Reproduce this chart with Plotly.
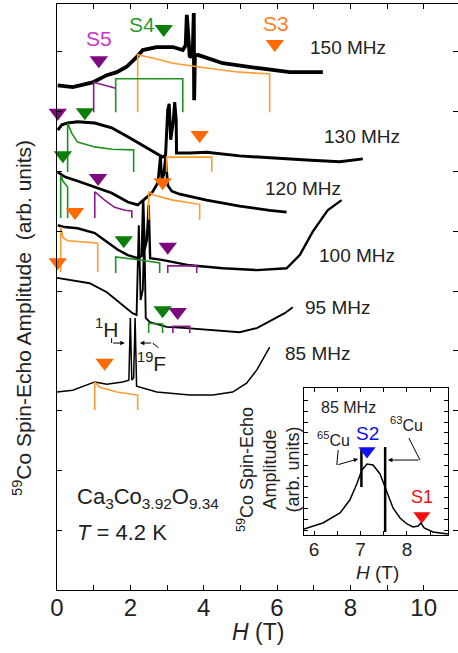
import plotly.graph_objects as go

FONT = "Liberation Sans, Arial, Helvetica, sans-serif"

# ---- spin-echo spectra: field H (T) and stacked amplitude (arb. units) ----
h150 = [0.02, 0.43, 0.97, 1.36, 1.63, 1.90, 2.17, 2.34, 2.72, 3.16, 3.43, 3.51, 3.54, 3.58, 3.62,
        3.70, 3.73, 3.74, 3.76, 3.84, 4.25, 4.52, 5.45, 6.35, 7.25]
a150 = [8.44, 8.41, 8.49, 8.61, 8.66, 8.75, 8.91, 9.03, 9.08, 9.08, 9.03, 9.11, 9.62, 9.11, 8.91,
        8.95, 9.65, 8.19, 8.93, 8.95, 8.86, 8.81, 8.73, 8.66, 8.66]

h130 = [0.02, 0.13, 0.29, 0.56, 1.03, 1.49, 1.93, 2.39, 2.66, 2.88, 2.96, 3.02, 3.06, 3.10, 3.16,
        3.21, 3.25, 3.26, 3.62, 4.08, 4.98, 5.88, 6.81, 7.71, 8.34]
a130 = [7.69, 7.78, 7.81, 7.83, 7.81, 7.73, 7.58, 7.41, 7.32, 7.24, 7.27, 8.03, 8.13, 7.53, 7.78,
        8.16, 7.86, 7.31, 7.31, 7.32, 7.26, 7.22, 7.19, 7.16, 7.21]

h120 = [0.02, 0.21, 0.56, 1.03, 1.49, 1.93, 2.20, 2.45, 2.61, 2.75, 2.82, 2.86, 2.91, 2.96, 3.02,
        3.13, 3.35, 4.08, 4.98, 5.80, 6.26]
a120 = [6.99, 6.91, 6.84, 6.74, 6.64, 6.49, 6.44, 6.57, 6.66, 6.81, 7.26, 6.86, 6.94, 7.24, 6.77,
        6.67, 6.62, 6.52, 6.42, 6.35, 6.32]

h100 = [0.02, 0.21, 0.56, 1.03, 1.30, 1.66, 1.93, 2.20, 2.31, 2.35, 2.39, 2.45, 2.50, 2.54, 2.86,
        3.62, 4.52, 5.45, 6.26, 6.62, 6.97, 7.38, 7.76]
a100 = [6.10, 6.07, 6.05, 5.97, 5.85, 5.69, 5.60, 5.55, 5.59, 6.52, 5.69, 5.85, 6.44, 5.55, 5.52,
        5.43, 5.38, 5.35, 5.38, 5.60, 5.99, 6.35, 6.52]

h95 = [0.00, 0.43, 0.89, 1.36, 1.79, 2.06, 2.17, 2.23, 2.28, 2.34, 2.38, 2.42, 2.53, 2.99, 3.54,
       4.08, 4.98, 5.45, 5.88, 6.21, 6.43]
a95 = [5.22, 5.18, 5.13, 4.98, 4.77, 4.63, 4.60, 6.10, 4.85, 5.02, 6.02, 4.55, 4.48, 4.40, 4.38,
       4.35, 4.31, 4.38, 4.52, 4.63, 4.73]

h85 = [0.00, 0.43, 1.03, 1.36, 1.79, 1.96, 2.00, 2.04, 2.09, 2.13, 2.17, 2.72, 3.62, 4.25, 4.79,
       5.17, 5.45, 5.61, 5.80]
a85 = [3.31, 3.34, 3.48, 3.44, 3.48, 3.51, 4.55, 3.51, 3.55, 4.55, 3.41, 3.31, 3.26, 3.26, 3.31,
       3.46, 3.68, 3.85, 4.06]

# ---- simulated powder patterns (H, amplitude) ----
ORANGE_L, GREEN_L, PURPLE_L = "#FF9A2E", "#1F8F1F", "#8B1A8B"
sim150_orange_h = [2.20, 2.20, 2.72, 3.16, 4.08, 4.98, 5.80, 5.80]
sim150_orange_a = [7.99, 8.95, 8.88, 8.81, 8.73, 8.66, 8.63, 7.99]
sim150_green_h = [1.60, 1.60, 3.43, 3.43]
sim150_green_a = [7.99, 8.55, 8.55, 7.99]
sim150_purple_h = [1.00, 1.00, 1.30, 1.60]
sim150_purple_a = [7.99, 8.49, 8.44, 8.39]
sim130_green_h = [0.29, 0.29, 0.40, 0.56, 1.03, 1.49, 2.09, 2.09]
sim130_green_a = [6.99, 7.81, 7.64, 7.49, 7.41, 7.37, 7.36, 6.99]
sim130_orange_h = [2.99, 2.99, 4.22, 4.22]
sim130_orange_a = [6.99, 7.24, 7.24, 6.99]
sim120_green_h = [0.10, 0.10, 0.16, 0.24, 0.29, 0.29]
sim120_green_a = [6.22, 6.94, 6.84, 6.77, 6.74, 6.22]
sim120_purple_h = [1.03, 1.03, 1.30, 1.57, 1.85, 2.04, 2.04]
sim120_purple_a = [6.22, 6.66, 6.52, 6.40, 6.35, 6.34, 6.22]
sim120_orange_h = [2.50, 2.50, 2.61, 3.16, 3.89, 3.89]
sim120_orange_a = [6.19, 6.66, 6.61, 6.52, 6.45, 6.19]
sim100_orange_h = [0.10, 0.10, 0.16, 0.29, 0.76, 1.11, 1.11]
sim100_orange_a = [5.32, 6.07, 5.90, 5.84, 5.82, 5.80, 5.32]
sim100_green_h = [1.60, 1.60, 2.26, 2.80, 2.80]
sim100_green_a = [5.30, 5.57, 5.52, 5.47, 5.30]
sim100_purple_h = [3.02, 3.02, 3.81, 3.81]
sim100_purple_a = [5.30, 5.42, 5.42, 5.30]
sim95_green_h = [2.50, 2.50, 2.88, 2.88]
sim95_green_a = [4.30, 4.46, 4.45, 4.30]
sim95_purple_h = [3.16, 3.16, 3.62, 3.62]
sim95_purple_a = [4.30, 4.41, 4.41, 4.30]
sim85_orange_h = [1.03, 1.03, 1.16, 1.63, 2.20, 2.20]
sim85_orange_a = [3.01, 3.48, 3.39, 3.31, 3.26, 3.01]

# ---- site markers (S3 orange, S4 green, S5 purple) ----
tri_purple_h = [1.14, 0.02, 1.12, 3.02, 3.29]
tri_purple_a = [8.86, 7.98, 6.89, 5.74, 4.65]
tri_green_h = [2.91, 0.76, 0.16, 1.82, 2.88]
tri_green_a = [9.38, 7.99, 7.27, 5.85, 4.68]
tri_orange_h = [5.94, 3.89, 2.88, 0.49, 0.02, 1.30]
tri_orange_a = [9.13, 7.61, 6.82, 6.32, 5.48, 3.80]

# ---- inset: 85 MHz spectrum at high field ----
inset_h = [5.785, 6.19, 6.56, 6.77, 6.92, 7.03, 7.14, 7.27, 7.42, 7.57, 7.70, 7.85, 8.00, 8.13,
           8.24, 8.30, 8.37, 8.56, 8.88]
inset_a = [0.56, 1.11, 2.04, 3.24, 4.72, 6.02, 6.57, 6.48, 5.65, 3.98, 2.50, 1.57, 1.02, 0.74,
           0.83, 1.11, 0.65, 0.28, 0.09]
cu65_h, cu65_a = [7.02, 7.02], [4.44, 7.87]
cu63_h, cu63_a = [7.53, 7.53], [0.28, 8.15]
s2_h, s2_a = [7.14], [7.78]
s1_h, s1_a = [8.32], [1.76]

freq_labels = ["150 MHz", "130 MHz", "120 MHz", "100 MHz", "95 MHz", "85 MHz"]
freq_label_h = [6.84, 7.22, 5.62, 7.08, 6.70, 6.15]
freq_label_a = [9.08, 7.58, 6.71, 5.60, 4.73, 3.96]

fig = go.Figure()

spectra = [(h150, a150, 3.8), (h130, a130, 3.0), (h120, a120, 2.7),
           (h100, a100, 2.4), (h95, a95, 1.9), (h85, a85, 1.5)]
for h, a, w in spectra:
    fig.add_trace(go.Scatter(x=h, y=a, mode="lines", line=dict(color="black", width=w),
                             showlegend=False, hoverinfo="skip"))

sims = [
    (sim150_orange_h, sim150_orange_a, ORANGE_L), (sim150_green_h, sim150_green_a, GREEN_L),
    (sim150_purple_h, sim150_purple_a, PURPLE_L), (sim130_green_h, sim130_green_a, GREEN_L),
    (sim130_orange_h, sim130_orange_a, ORANGE_L), (sim120_green_h, sim120_green_a, GREEN_L),
    (sim120_purple_h, sim120_purple_a, PURPLE_L), (sim120_orange_h, sim120_orange_a, ORANGE_L),
    (sim100_orange_h, sim100_orange_a, ORANGE_L), (sim100_green_h, sim100_green_a, GREEN_L),
    (sim100_purple_h, sim100_purple_a, PURPLE_L), (sim95_green_h, sim95_green_a, GREEN_L),
    (sim95_purple_h, sim95_purple_a, PURPLE_L), (sim85_orange_h, sim85_orange_a, ORANGE_L),
]
for h, a, c in sims:
    fig.add_trace(go.Scatter(x=h, y=a, mode="lines", line=dict(color=c, width=1.6),
                             showlegend=False, hoverinfo="skip"))

for h, a, c in [(tri_purple_h, tri_purple_a, "#7D0A7D"), (tri_green_h, tri_green_a, "#0B7D0B"),
                (tri_orange_h, tri_orange_a, "#FF6A00")]:
    fig.add_trace(go.Scatter(x=h, y=a, mode="markers", cliponaxis=False,
                             marker=dict(symbol="triangle-down", size=16, color=c, line=dict(width=0)),
                             showlegend=False, hoverinfo="skip"))

# inset traces
fig.add_trace(go.Scatter(x=inset_h, y=inset_a, xaxis="x2", yaxis="y2", mode="lines",
                         line=dict(color="black", width=1.5), showlegend=False, hoverinfo="skip"))
for h, a in [(cu65_h, cu65_a), (cu63_h, cu63_a)]:
    fig.add_trace(go.Scatter(x=h, y=a, xaxis="x2", yaxis="y2", mode="lines",
                             line=dict(color="black", width=2.5), showlegend=False, hoverinfo="skip"))
for h, a, c in [(s2_h, s2_a, "#1010F0"), (s1_h, s1_a, "#F01010")]:
    fig.add_trace(go.Scatter(x=h, y=a, xaxis="x2", yaxis="y2", mode="markers",
                             marker=dict(symbol="triangle-down", size=15, color=c),
                             showlegend=False, hoverinfo="skip"))

ann = []
for t, x, y in zip(freq_labels, freq_label_h, freq_label_a):
    ann.append(dict(x=x, y=y, text=t, showarrow=False, xanchor="left", yanchor="middle",
                    font=dict(size=19, color="#222")))
ann += [
    dict(x=1.14, y=9.23, text="S5", showarrow=False, font=dict(size=21, color="#CC33CC")),
    dict(x=2.31, y=9.45, text="S4", showarrow=False, font=dict(size=21, color="#2A9A2A")),
    dict(x=5.96, y=9.47, text="S3", showarrow=False, font=dict(size=21, color="#FF7F27")),
    dict(x=1.36, y=4.38, text="<sup>1</sup>H", showarrow=False, font=dict(size=21, color="#222")),
    dict(x=2.58, y=3.81, text="<sup>19</sup>F", showarrow=False, font=dict(size=21, color="#222")),
    dict(x=1.85, y=4.13, ax=1.49, ay=4.13, axref="x", ayref="y", text="", showarrow=True,
         arrowhead=2, arrowsize=0.9, arrowwidth=1, arrowcolor="black"),
    dict(x=2.26, y=4.13, ax=2.61, ay=4.13, axref="x", ayref="y", text="", showarrow=True,
         arrowhead=2, arrowsize=0.9, arrowwidth=1, arrowcolor="black"),
    dict(x=0.48, y=1.54, text="Ca<sub>3</sub>Co<sub>3.92</sub>O<sub>9.34</sub>", showarrow=False,
         xanchor="left", font=dict(size=22, color="#222")),
    dict(x=0.48, y=0.97, text="<i>T</i> = 4.2 K", showarrow=False, xanchor="left",
         font=dict(size=22, color="#222")),
    # axis titles
    dict(xref="paper", yref="paper", x=(258 - 57) / 401, y=(590 - 632) / 586, text="<i>H</i> (T)",
         xanchor="center", yanchor="middle", showarrow=False, font=dict(size=23, color="#222")),
    dict(xref="paper", yref="paper", x=(22 - 57) / 401, y=(590 - 318) / 586, textangle=-90,
         xanchor="center", yanchor="middle",
         text="<sup>59</sup>Co Spin-Echo Amplitude  (arb. units)", showarrow=False,
         font=dict(size=21, color="#222")),
    # inset texts
    dict(xref="x2", yref="y2", x=6.11, y=11.85, text="85 MHz", showarrow=False, xanchor="left",
         font=dict(size=16, color="#222")),
    dict(xref="x2", yref="y2", x=6.41, y=8.89, text="<sup>65</sup>Cu", showarrow=False,
         font=dict(size=16, color="#222")),
    dict(xref="x2", yref="y2", x=8.00, y=10.28, text="<sup>63</sup>Cu", showarrow=False,
         font=dict(size=16, color="#222")),
    dict(xref="x2", yref="y2", x=7.14, y=9.44, text="S2", showarrow=False,
         font=dict(size=19, color="#1010F0")),
    dict(xref="x2", yref="y2", x=8.32, y=3.52, text="S1", showarrow=False,
         font=dict(size=18, color="#F01010")),
    dict(xref="x2", yref="y2", x=6.95, y=7.04, ax=6.49, ay=6.48, axref="x2", ayref="y2", text="",
         showarrow=True, arrowhead=2, arrowsize=0.9, arrowwidth=1, arrowcolor="black"),
    dict(xref="x2", yref="y2", x=7.59, y=6.94, ax=8.28, ay=6.94, axref="x2", ayref="y2", text="",
         showarrow=True, arrowhead=2, arrowsize=0.9, arrowwidth=1, arrowcolor="black"),
    dict(xref="paper", yref="paper", x=(377 - 57) / 401, y=(590 - 572) / 586, text="<i>H</i> (T)",
         xanchor="center", yanchor="middle", showarrow=False, font=dict(size=19, color="#222")),
    dict(xref="paper", yref="paper", x=(268 - 57) / 401, y=(590 - 470) / 586, textangle=-90,
         xanchor="center", yanchor="middle",
         text="<sup>59</sup>Co Spin-Echo<br>Amplitude<br>(arb. units)", showarrow=False,
         font=dict(size=18, color="#222")),
]

shapes = [
    dict(type="line", x0=1.49, y0=4.21, x1=1.49, y1=4.13, line=dict(color="black", width=1)),
    dict(type="line", x0=2.61, y0=4.13, x1=2.77, y1=4.05, line=dict(color="black", width=1)),
    dict(type="line", xref="x2", yref="y2", x0=6.52, y0=7.87, x1=6.49, y1=6.48,
         line=dict(color="black", width=1)),
    dict(type="line", xref="x2", yref="y2", x0=8.04, y0=8.98, x1=8.28, y1=6.94,
         line=dict(color="black", width=1)),
]

axis_common = dict(showline=True, linecolor="black", linewidth=1, mirror="ticks", ticks="inside",
                   tickcolor="black", showgrid=False, zeroline=False)

fig.update_layout(
    width=458, height=653,
    margin=dict(l=57, r=0, t=4, b=63),
    paper_bgcolor="white", plot_bgcolor="white",
    font=dict(family=FONT, color="#222"),
    xaxis=dict(range=[0, 10.935], tickvals=list(range(11)),
               ticktext=["0", "", "2", "", "4", "", "6", "", "8", "", "10"],
               ticklen=5, tickfont=dict(size=24), ticklabelstandoff=-4, **axis_common),
    yaxis=dict(range=[0, 9.80], tickvals=list(range(10)), showticklabels=False, ticklen=5,
               **axis_common),
    xaxis2=dict(domain=[(304 - 57) / 401, (448 - 57) / 401], anchor="y2", range=[5.785, 8.882],
                tickvals=[6, 6.5, 7, 7.5, 8, 8.5], ticktext=["6", "", "7", "", "8", ""],
                ticklen=4, tickfont=dict(size=19), ticklabelstandoff=-3, **axis_common),
    yaxis2=dict(domain=[(590 - 535) / 586, (590 - 388) / 586], anchor="x2", range=[0, 13.61],
                tickvals=[0.46 + k for k in range(13)], showticklabels=False, ticklen=4,
                **axis_common),
    annotations=ann,
    shapes=shapes,
)

fig.write_html("out.html")
